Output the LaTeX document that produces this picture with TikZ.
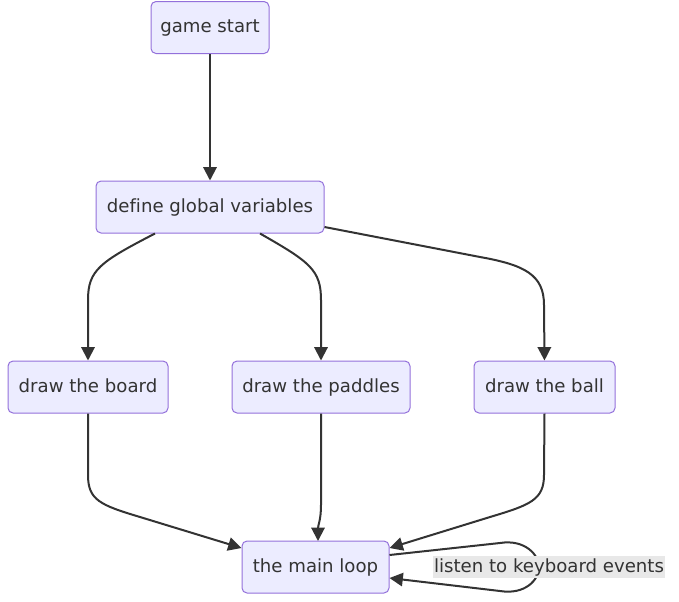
\documentclass[tikz,border=0pt]{standalone}
\usepackage{fontspec}
\setmainfont[Ligatures={NoCommon}]{DejaVu Sans}
\usetikzlibrary{arrows.meta,calc}
\definecolor{nodefill}{HTML}{ECECFF}
\definecolor{nodeline}{HTML}{9370DB}
\definecolor{txt}{HTML}{333333}
\definecolor{lblbg}{HTML}{E8E8E8}
\begin{document}
\begin{tikzpicture}[x=0.75pt,y=-0.75pt,
  box/.style={draw=nodeline,fill=nodefill,line width=0.75pt,rounded corners=3.75pt,
    text=txt,font=\fontsize{13.6}{16}\selectfont,minimum height=39pt,inner sep=0pt,
    text height=10pt,text depth=2pt},
  edge/.style={draw=txt,line width=1.5pt,-{Triangle[length=10pt,width=10pt]}},
  lbl/.style={fill=lblbg,text=txt,font=\fontsize{13.6}{16}\selectfont,inner sep=0pt,minimum height=16.5pt,
    text height=10pt,text depth=2pt}]
\useasboundingbox (0,0) rectangle (679,601);
\node[box,minimum width=88.5pt] (gs) at (210,27.5) {game start};
\node[box,minimum width=171pt] (def) at (210,207) {define global variables};
\node[box,minimum width=120pt] (board) at (88,387) {draw the board};
\node[box,minimum width=133.5pt] (pad) at (321,387) {draw the paddles};
\node[box,minimum width=105.75pt] (ball) at (544.5,387) {draw the ball};
\node[box,minimum width=110.25pt] (loop) at (315.5,567) {the main loop};

\draw[edge] (gs) -- (def);
\draw[edge] ($(def.south)+(-55,0)$) .. controls (100,262) and (88,270) .. (88,300) -- (board.north);
\draw[edge] ($(def.south)+(50,0)$) .. controls (310,262) and (321,270) .. (321,300) -- (pad.north);
\draw[edge] ($(def.east)+(0,20)$) -- (480,257) .. controls (525,265) and (544,275) .. (544,305) -- (ball.north);
\draw[edge] (board.south) -- (88,475) .. controls (88,500) and (100,505) .. (140,517) -- ($(loop.west)+(0,-19)$);
\draw[edge] (pad.south) -- (321,505) .. controls (321,520) and (318,525) .. (318,541);
\draw[edge] (ball.south) -- (544,475) .. controls (544,500) and (530,505) .. (490,517) -- ($(loop.east)+(0,-19)$);
\draw[edge] ($(loop.east)+(0,-12)$) -- (500,543) .. controls (525,539) and (539,555) .. (539,567) .. controls (539,580) and (525,595) .. (500,591) -- ($(loop.east)+(0,11)$);
\node[lbl,minimum width=174pt] (lab) at (549,567) {listen to keyboard events};
\end{tikzpicture}
\end{document}
